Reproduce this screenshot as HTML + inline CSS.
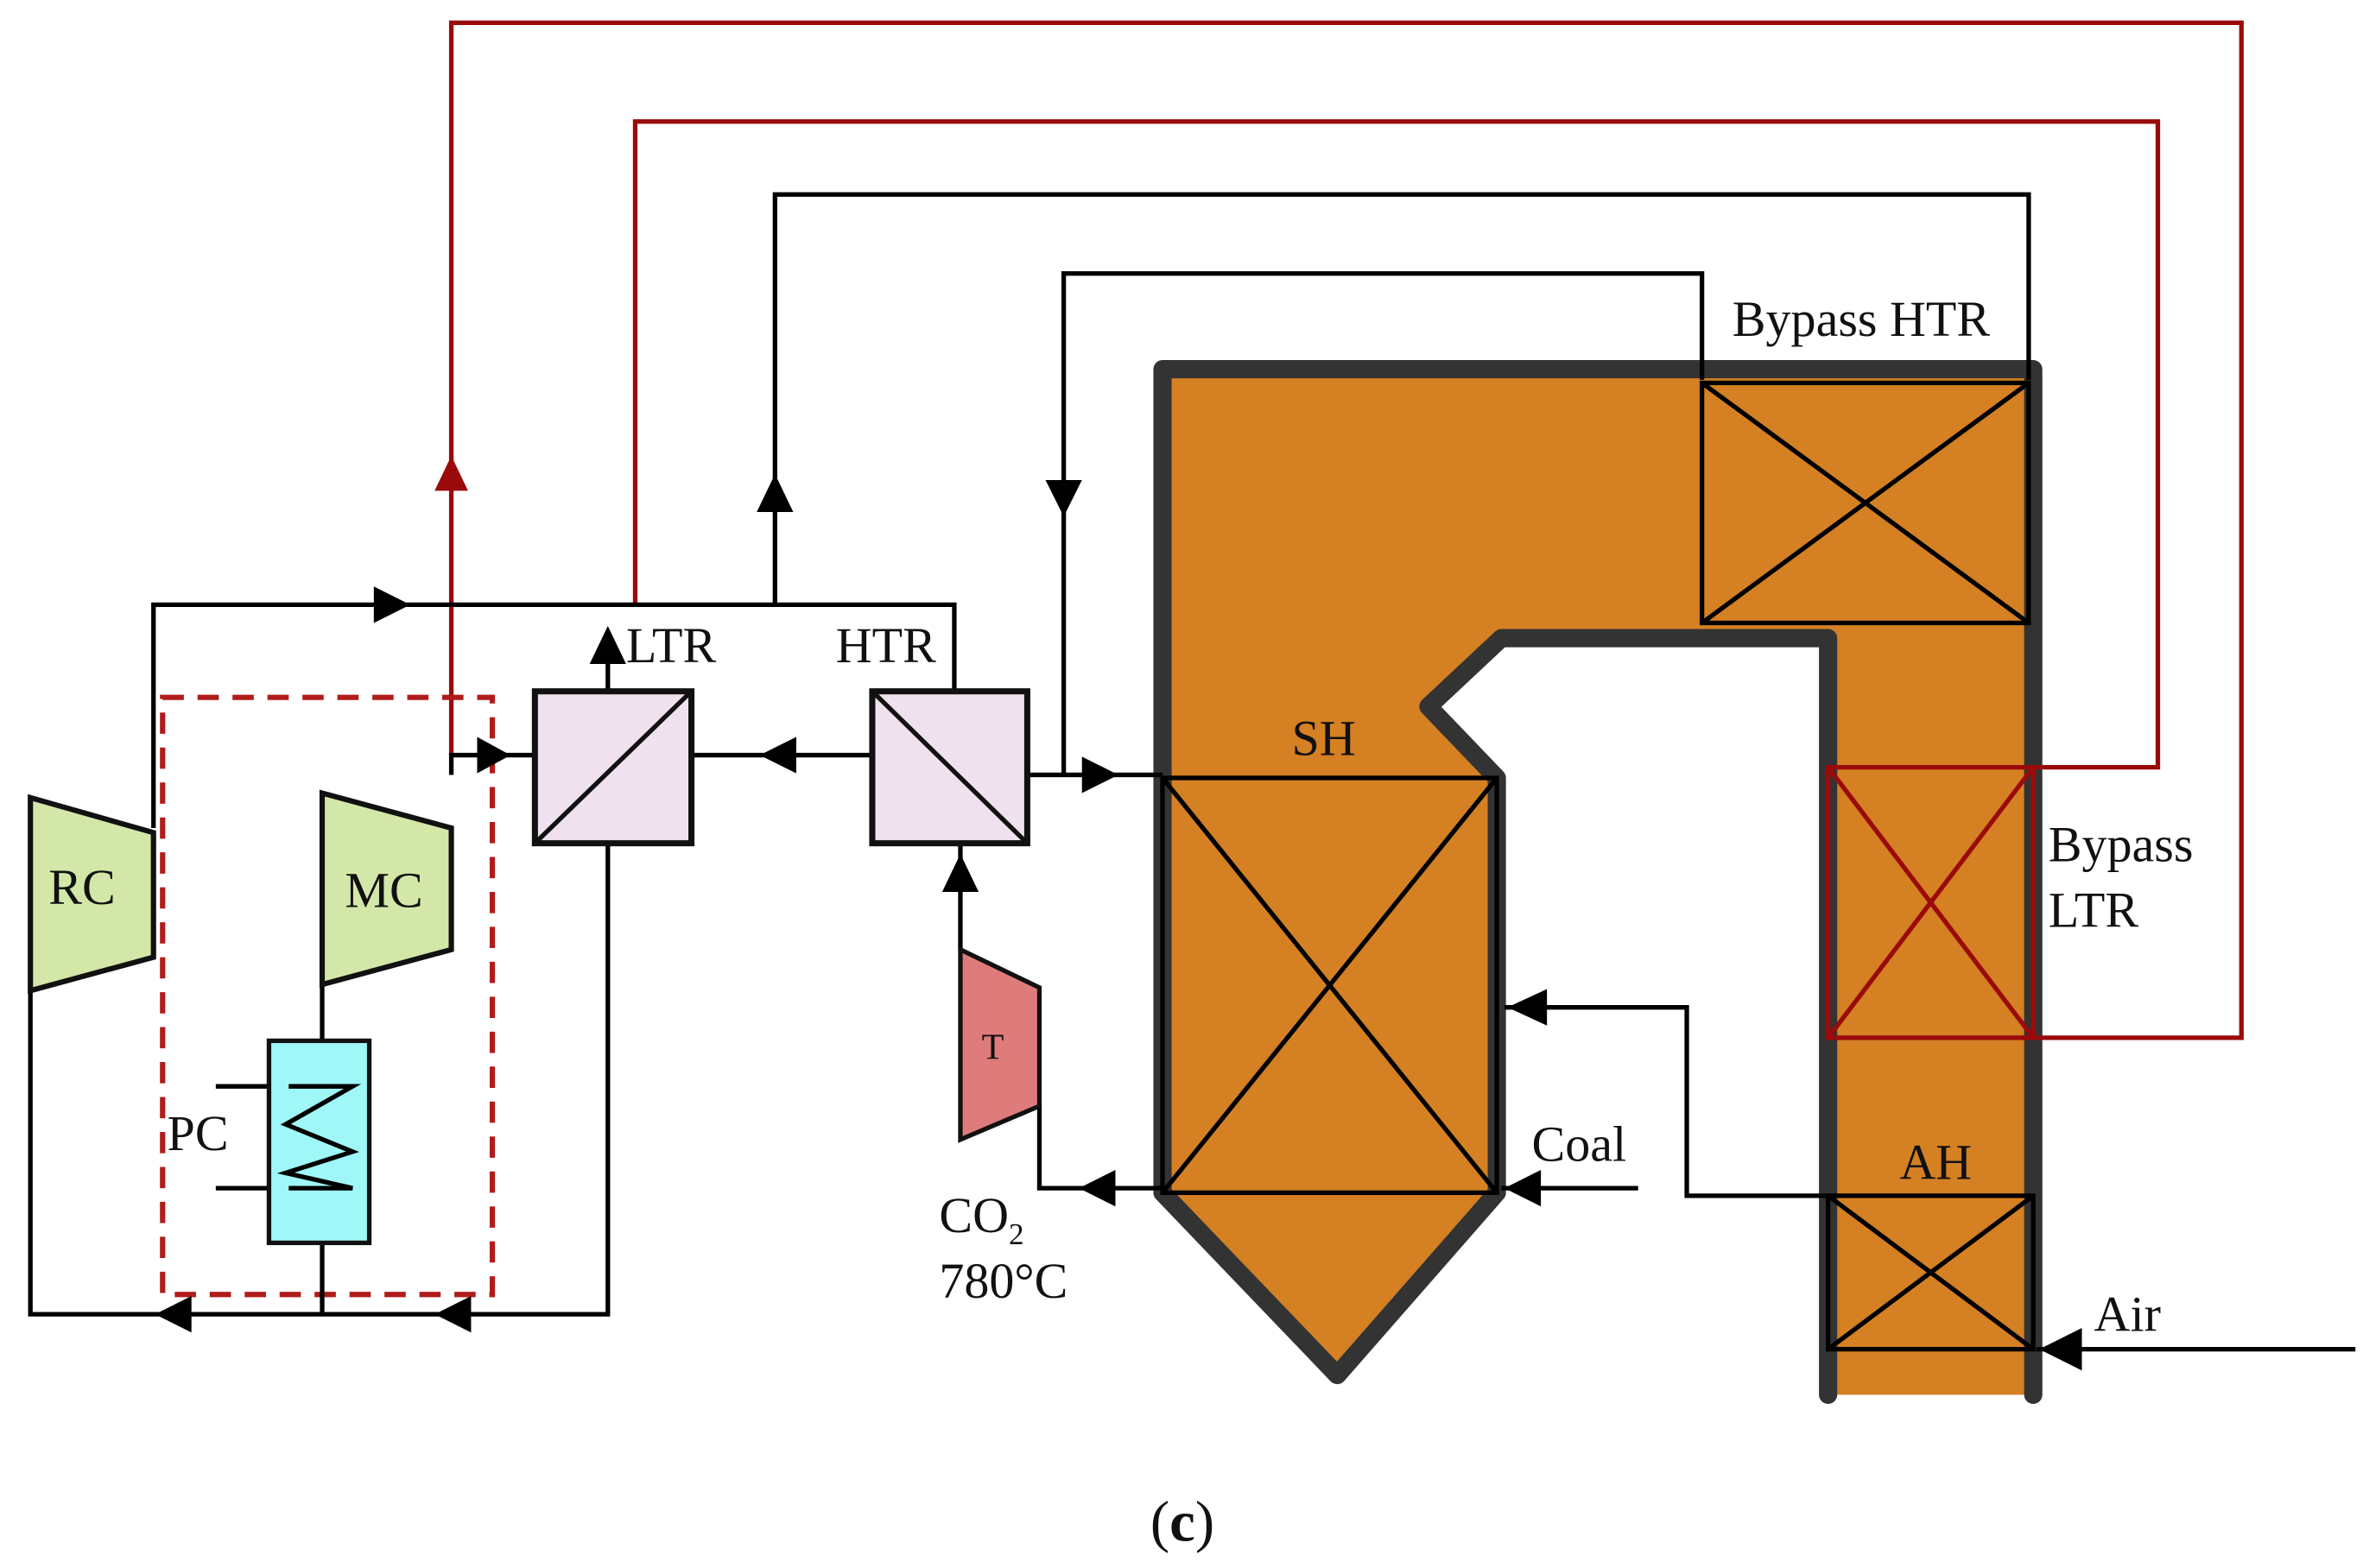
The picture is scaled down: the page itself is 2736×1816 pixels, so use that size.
<!DOCTYPE html>
<html><head><meta charset="utf-8"><style>
html,body{margin:0;padding:0;background:#fff;}
svg{display:block;}
text{font-family:"Liberation Serif",serif;fill:#111;}
</style></head><body>
<svg width="2736" height="1816" viewBox="0 0 1555 1032" preserveAspectRatio="none" xmlns="http://www.w3.org/2000/svg">
<defs>
<marker id="a" markerWidth="10" markerHeight="10" refX="5" refY="5" orient="auto" markerUnits="userSpaceOnUse"/>
</defs>
<!-- Boiler -->
<path d="M765,243 L1338,243 L1338,918 L1203,918 L1203,420 L988,420 L940,465 L985,512 L985,785 L880,905 L765,785 Z" fill="#d48023" stroke="none"/>
<path d="M1203,918 L1203,420 L988,420 L940,465 L985,512 L985,785 L880,905 L765,785 L765,243 L1338,243 L1338,918" fill="none" stroke="#333" stroke-width="12" stroke-linejoin="round" stroke-linecap="round"/>
<!-- boxes with X -->
<g fill="none" stroke="#000" stroke-width="3">
<rect x="1120" y="252" width="215" height="158"/><path d="M1120,252 L1335,410 M1335,252 L1120,410"/>
<rect x="765" y="512" width="220" height="273"/><path d="M765,512 L985,785 M985,512 L765,785"/>
<rect x="1203" y="787" width="135" height="101"/><path d="M1203,787 L1338,888 M1338,787 L1203,888"/>
</g>
<g fill="none" stroke="#9b0a0a" stroke-width="3">
<rect x="1203" y="505" width="135" height="178"/><path d="M1203,505 L1338,683 M1338,505 L1203,683"/>
<path d="M297,497 L297,15 L1475,15 L1475,683 L1338,683"/>
<path d="M418,398 L418,80 L1420,80 L1420,505 L1338,505"/>
</g>
<polygon points="297,300 286,323 308,323" fill="#9b0a0a"/>
<rect x="107" y="459" width="217" height="393" fill="none" stroke="#b01c1c" stroke-width="3.5" stroke-dasharray="14,9"/>
<!-- black lines -->
<g fill="none" stroke="#000" stroke-width="3">
<path d="M510,398 L510,128 L1335,128 L1335,250"/>
<path d="M700,510 L700,180 L1120,180 L1120,250"/>
<path d="M101,545 L101,398 L628,398 L628,455"/>
<path d="M400,455 L400,415"/>
<path d="M455,497 L574,497"/>
<path d="M676,510 L765,510"/>
<path d="M297,510 L297,497 L352,497"/>
<path d="M212,648 L212,685"/>
<path d="M212,818 L212,865"/>
<path d="M20,650 L20,865 L400,865 L400,555"/>
<path d="M632,625 L632,555"/>
<path d="M684,728 L684,782 L765,782"/>
<path d="M1078,782 L988,782"/>
<path d="M1203,787 L1110,787 L1110,663 L990,663"/>
<path d="M1550,888 L1340,888"/>
<path d="M142,715 L210,715 M142,782 L210,782"/>
</g>
<!-- arrowheads -->
<g fill="#000">
<polygon points="510,312 498,337 522,337"/>
<polygon points="700,340 688,316 712,316"/>
<polygon points="270,398 246,386 246,410"/>
<polygon points="400,412 388,437 412,437"/>
<polygon points="500,497 524,485 524,509"/>
<polygon points="736,510 712,498 712,510 712,522"/>
<polygon points="336,497 314,485 314,509"/>
<polygon points="102,865 126,853 126,877"/>
<polygon points="286,865 310,853 310,877"/>
<polygon points="632,562 620,587 644,587"/>
<polygon points="710,782 734,770 734,794"/>
<polygon points="990,782 1014,770 1014,794"/>
<polygon points="992,663 1018,651 1018,675"/>
<polygon points="1342,888 1370,874 1370,902"/>
</g>
<!-- exchangers -->
<g stroke="#111" stroke-width="4">
<rect x="352" y="455" width="103" height="100" fill="#efe1ee"/>
<rect x="574" y="455" width="102" height="100" fill="#efe1ee"/>
</g>
<g stroke="#111" stroke-width="3"><path d="M352,555 L455,455"/><path d="M574,455 L676,555"/></g>
<!-- compressors -->
<polygon points="20,525 101,548 101,630 20,652" fill="#d3e8a8" stroke="#111" stroke-width="3.5"/>
<polygon points="212,522 297,545 297,625 212,648" fill="#d3e8a8" stroke="#111" stroke-width="3.5"/>
<polygon points="632,625 684,650 684,728 632,750" fill="#df7b7b" stroke="#111" stroke-width="3"/>
<rect x="177" y="685" width="66" height="133" fill="#a0f7f7" stroke="#111" stroke-width="3"/>
<path d="M190,715 L232,715 L188,740 L232,758 L188,772 L232,782 L190,782" fill="none" stroke="#000" stroke-width="3"/>
<!-- text -->
<g font-size="33">
<text x="32" y="595">RC</text>
<text x="227" y="597">MC</text>
<text x="110" y="757">PC</text>
<text x="646" y="697" font-size="24">T</text>
<text x="412" y="436">LTR</text>
<text x="550" y="436">HTR</text>
<text x="1140" y="221">Bypass HTR</text>
<text x="850" y="497">SH</text>
<text x="1348" y="567">Bypass</text>
<text x="1348" y="610">LTR</text>
<text x="1250" y="776">AH</text>
<text x="1008" y="764">Coal</text>
<text x="1378" y="876">Air</text>
<text x="618" y="811">CO<tspan font-size="20" dy="8">2</tspan></text>
<text x="618" y="854">780°C</text>
<text x="757" y="1014" font-size="38">(<tspan font-weight="bold">c</tspan>)</text>
</g>
</svg>
</body></html>
